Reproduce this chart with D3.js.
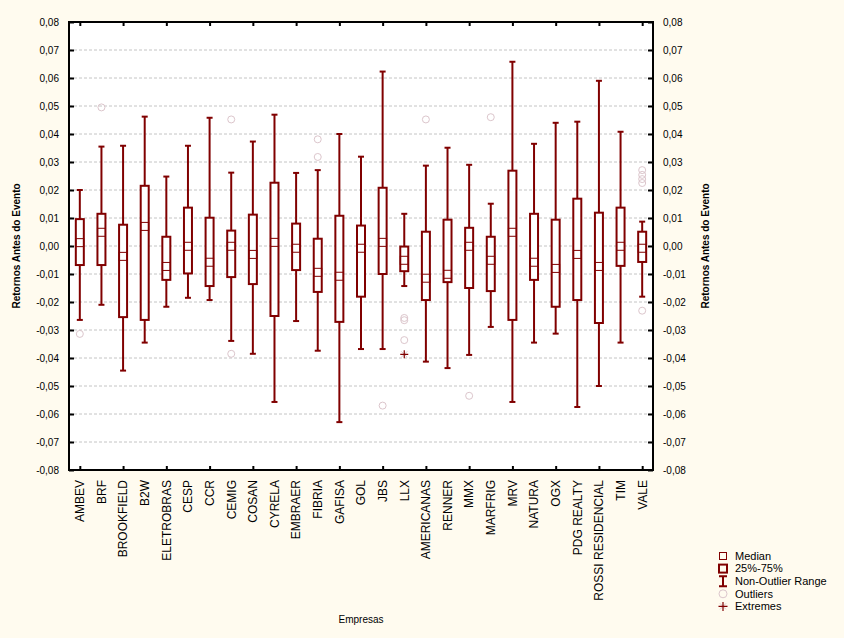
<!DOCTYPE html>
<html>
<head>
<meta charset="utf-8">
<script src="https://cdn.jsdelivr.net/npm/d3@7"></script>
<style>
  html, body { margin: 0; padding: 0; background: #fffbef; }
  svg { display: block; font-family: Arial, "Liberation Sans", sans-serif; }
</style>
</head>
<body>
<div id="chart"></div>
<script>
var width = 844
var height = 638

// companies on the x axis
var companies = ["AMBEV", "BRF", "BROOKFIELD", "B2W", "ELETROBRAS", "CESP", "CCR", "CEMIG", "COSAN",
  "CYRELA", "EMBRAER", "FIBRIA", "GAFISA", "GOL", "JBS", "LLX", "AMERICANAS", "RENNER", "MMX",
  "MARFRIG", "MRV", "NATURA", "OGX", "PDG REALTY", "ROSSI RESIDENCIAL", "TIM", "VALE"];

// box statistics, one value per company
var whiskerHigh = [0.0200, 0.0355, 0.0358, 0.0462, 0.0248, 0.0358, 0.0458, 0.0262, 0.0373,
  0.0469, 0.0261, 0.0271, 0.0400, 0.0319, 0.0623, 0.0115, 0.0287, 0.0351, 0.0290,
  0.0151, 0.0658, 0.0365, 0.0440, 0.0444, 0.0590, 0.0408, 0.0087];
var q3 = [0.0096, 0.0115, 0.0076, 0.0215, 0.0033, 0.0137, 0.0101, 0.0055, 0.0112,
  0.0226, 0.0080, 0.0026, 0.0108, 0.0073, 0.0208, -0.0002, 0.0051, 0.0094, 0.0065,
  0.0033, 0.0269, 0.0115, 0.0094, 0.0169, 0.0119, 0.0137, 0.0051];
var medians = [0.0012, 0.0049, -0.0037, 0.0070, -0.0073, -0.0001, -0.0058, -0.0001, -0.0030,
  0.0013, -0.0008, -0.0094, -0.0108, -0.0008, 0.0013, -0.0051, -0.0115, -0.0101, -0.0001,
  -0.0051, 0.0049, -0.0058, -0.0080, -0.0030, -0.0073, -0.0001, -0.0008];
var q1 = [-0.0068, -0.0068, -0.0254, -0.0264, -0.0121, -0.0098, -0.0143, -0.0111, -0.0136,
  -0.0250, -0.0086, -0.0164, -0.0271, -0.0181, -0.0100, -0.0090, -0.0193, -0.0129, -0.0150,
  -0.0161, -0.0264, -0.0121, -0.0217, -0.0193, -0.0275, -0.0071, -0.0057];
var whiskerLow = [-0.0264, -0.0210, -0.0445, -0.0345, -0.0217, -0.0185, -0.0193, -0.0339, -0.0385,
  -0.0557, -0.0268, -0.0374, -0.0629, -0.0368, -0.0368, -0.0143, -0.0413, -0.0436, -0.0389,
  -0.0289, -0.0557, -0.0345, -0.0313, -0.0575, -0.0500, -0.0345, -0.0181];

// outliers and extremes
var outliers = [
  ["AMBEV", -0.0314], ["BRF", 0.0495], ["CEMIG", 0.0452], ["CEMIG", -0.0385],
  ["FIBRIA", 0.0381], ["FIBRIA", 0.0318], ["JBS", -0.0570],
  ["LLX", -0.0257], ["LLX", -0.0265], ["LLX", -0.0336],
  ["AMERICANAS", 0.0452], ["MMX", -0.0535], ["MARFRIG", 0.0460],
  ["VALE", 0.0271], ["VALE", 0.0254], ["VALE", 0.0239], ["VALE", 0.0225], ["VALE", -0.0231]
];
var extremes = [["LLX", -0.0387]];

var yTicks = [0.08, 0.07, 0.06, 0.05, 0.04, 0.03, 0.02, 0.01, 0, -0.01, -0.02, -0.03, -0.04, -0.05, -0.06, -0.07, -0.08];
var legendLabels = ["Median", "25%-75%", "Non-Outlier Range", "Outliers", "Extremes"];

var darkRed = "#800000";
var outlierColor = "#dcc6cc";

var plot = {left: 69, right: 653, top: 22, bottom: 470};

function drawBoxPlot() {
  const svg = d3.select("#chart").append("svg")
    .attr("width", width)
    .attr("height", height);

  svg.append("rect").attr("width", width).attr("height", height).attr("fill", "#fffbef");

  const x = d3.scalePoint()
    .domain(companies)
    .range([plot.left, plot.right])
    .padding(0.5);

  const y = d3.scaleLinear()
    .domain([-0.08, 0.08])
    .range([plot.bottom, plot.top]);

  const fmt = v => d3.format(".2f")(v).replace(".", ",").replace("−", "-");

  // plot area
  svg.append("rect")
    .attr("x", plot.left).attr("y", plot.top)
    .attr("width", plot.right - plot.left).attr("height", plot.bottom - plot.top)
    .attr("fill", "#fff");

  // dashed grid
  svg.append("g").selectAll("line")
    .data(yTicks.filter(t => t < 0.08 && t > -0.08))
    .join("line")
    .attr("x1", plot.left).attr("x2", plot.right)
    .attr("y1", d => y(d)).attr("y2", d => y(d))
    .attr("stroke", "#c4c4c4")
    .attr("stroke-dasharray", "3,2")
    .attr("stroke-width", 1);

  // axes, ticks pointing inside
  const left = svg.append("g").attr("transform", `translate(${plot.left},0)`)
    .call(d3.axisLeft(y).tickValues(yTicks).tickSize(-5).tickPadding(10).tickFormat(fmt));
  const right = svg.append("g").attr("transform", `translate(${plot.right},0)`)
    .call(d3.axisRight(y).tickValues(yTicks).tickSize(-5).tickPadding(10).tickFormat(fmt));
  const evenCompanies = companies.filter((c, i) => i % 2 == 0);
  const top = svg.append("g").attr("transform", `translate(0,${plot.top})`)
    .call(d3.axisTop(x).tickValues(evenCompanies).tickSize(-4).tickFormat(""));
  const bottom = svg.append("g").attr("transform", `translate(0,${plot.bottom})`)
    .call(d3.axisBottom(x).tickValues(evenCompanies).tickSize(-4).tickFormat(""));

  [left, right, top, bottom].forEach(g => {
    g.select(".domain").remove();
    g.selectAll(".tick line").attr("stroke", "#000").attr("stroke-width", 2);
    g.selectAll(".tick text").attr("fill", "#000").attr("font-size", 10)
      .attr("font-family", "Arial, 'Liberation Sans', sans-serif");
  });

  // category labels, rotated
  svg.append("g").selectAll("text")
    .data(companies)
    .join("text")
    .attr("transform", d => `translate(${x(d)},${plot.bottom + 10}) rotate(-90)`)
    .attr("text-anchor", "end")
    .attr("dy", "0.36em")
    .attr("font-size", 12)
    .attr("fill", "#000")
    .text(d => d);

  // boxes
  const boxes = svg.append("g").selectAll("g")
    .data(companies.map((c, i) => ({name: c, hi: whiskerHigh[i], q3: q3[i], med: medians[i], q1: q1[i], lo: whiskerLow[i]})))
    .join("g")
    .attr("transform", d => `translate(${x(d.name)},0)`);

  boxes.append("line")
    .attr("y1", d => y(d.hi)).attr("y2", d => y(d.lo))
    .attr("stroke", darkRed).attr("stroke-width", 2);
  boxes.append("line")
    .attr("x1", -3).attr("x2", 3)
    .attr("y1", d => y(d.hi)).attr("y2", d => y(d.hi))
    .attr("stroke", darkRed).attr("stroke-width", 2);
  boxes.append("line")
    .attr("x1", -3).attr("x2", 3)
    .attr("y1", d => y(d.lo)).attr("y2", d => y(d.lo))
    .attr("stroke", darkRed).attr("stroke-width", 2);
  boxes.append("rect")
    .attr("x", -4).attr("width", 8)
    .attr("y", d => y(d.q3)).attr("height", d => y(d.q1) - y(d.q3))
    .attr("fill", "#fff").attr("stroke", darkRed).attr("stroke-width", 2);
  boxes.append("rect")
    .attr("x", -4).attr("width", 8)
    .attr("y", d => y(d.med) - 4).attr("height", 8)
    .attr("fill", "none").attr("stroke", darkRed).attr("stroke-width", 1);

  // outliers
  svg.append("g").selectAll("circle")
    .data(outliers)
    .join("circle")
    .attr("cx", d => x(d[0])).attr("cy", d => y(d[1]))
    .attr("r", 3.5)
    .attr("fill", "none").attr("stroke", outlierColor).attr("stroke-width", 1);

  // extremes
  const ext = svg.append("g").selectAll("g")
    .data(extremes)
    .join("g")
    .attr("transform", d => `translate(${x(d[0])},${y(d[1])})`);
  ext.append("path").attr("d", "M-3,-3L3,3M-3,3L3,-3").attr("stroke", outlierColor).attr("stroke-width", 1);
  ext.append("path").attr("d", "M-4,0H4M0,-4V4").attr("stroke", darkRed).attr("stroke-width", 1.2);

  // frame
  svg.append("rect")
    .attr("x", plot.left).attr("y", plot.top)
    .attr("width", plot.right - plot.left).attr("height", plot.bottom - plot.top)
    .attr("fill", "none").attr("stroke", "#000").attr("stroke-width", 2);

  // axis titles
  const midY = (plot.top + plot.bottom) / 2;
  [16, 705].forEach(tx => {
    svg.append("text")
      .attr("transform", `translate(${tx},${midY}) rotate(-90)`)
      .attr("text-anchor", "middle").attr("dy", "0.35em")
      .attr("font-size", 10).attr("font-weight", "bold")
      .text("Retornos Antes do Evento");
  });
  svg.append("text")
    .attr("x", 361).attr("y", 623)
    .attr("text-anchor", "middle")
    .attr("font-size", 10)
    .text("Empresas");

  // legend
  const leg = svg.append("g").selectAll("g")
    .data(legendLabels)
    .join("g")
    .attr("transform", (d, i) => `translate(723,${556 + i * 12.6})`);
  leg.append("text")
    .attr("x", 12).attr("dy", "0.35em")
    .attr("font-size", 11)
    .text(d => d);
  leg.each(function (d, i) {
    const g = d3.select(this);
    if (i == 0) {
      g.append("rect").attr("x", -3.5).attr("y", -3.5).attr("width", 7).attr("height", 7)
        .attr("fill", "none").attr("stroke", darkRed).attr("stroke-width", 1);
    } else if (i == 1) {
      g.append("rect").attr("x", -4).attr("y", -4).attr("width", 8).attr("height", 8)
        .attr("fill", "none").attr("stroke", darkRed).attr("stroke-width", 2);
    } else if (i == 2) {
      g.append("path").attr("d", "M-4,-5H4M0,-5V5M-4,5H4")
        .attr("fill", "none").attr("stroke", darkRed).attr("stroke-width", 2);
    } else if (i == 3) {
      g.append("circle").attr("r", 4).attr("fill", "none").attr("stroke", outlierColor);
    } else {
      g.append("path").attr("d", "M-3,-3L3,3M-3,3L3,-3").attr("stroke", outlierColor).attr("stroke-width", 1);
      g.append("path").attr("d", "M-4.5,0H4.5M0,-4.5V4.5").attr("stroke", darkRed).attr("stroke-width", 1.2);
    }
  });

  return svg.node();
}

drawBoxPlot();
</script>
</body>
</html>
